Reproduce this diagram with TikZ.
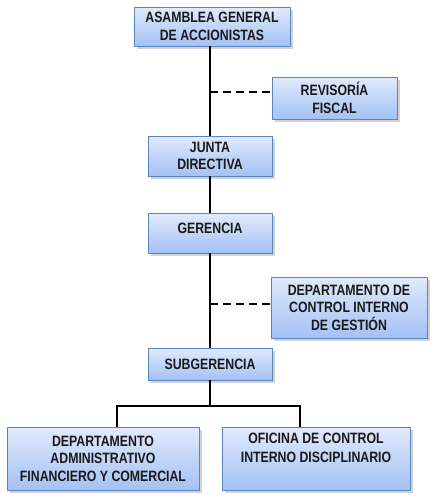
\documentclass[tikz,border=0pt]{standalone}
\usepackage{fontspec}
\setmainfont{Liberation Sans}[FakeStretch=0.82]
\usetikzlibrary{shadows}
\definecolor{boxtop}{HTML}{E0EAFC}
\definecolor{boxbot}{HTML}{A4C1F4}
\definecolor{boxline}{HTML}{5A86C0}
\definecolor{txt}{HTML}{1A1A1A}
\begin{document}
\begin{tikzpicture}[x=1pt,y=-1pt,
  boxtext/.style={align=center, inner sep=0pt, text=txt,
    font=\fontsize{15}{17.5}\selectfont\bfseries},
  orgbox/.style={boxtext, draw=boxline, line width=0.9pt, top color=boxtop, bottom color=boxbot,
    drop shadow={shadow xshift=2.5pt, shadow yshift=-2.5pt, fill=black!35, opacity=0.5}},
  solidline/.style={line width=2.4pt, black},
  dashline/.style={line width=2pt, black, dash pattern=on 8pt off 5pt}]
\useasboundingbox (0,0) rectangle (437,501);
\node[orgbox, minimum width=156pt, minimum height=39pt] (asam) at (212,26.5) {ASAMBLEA GENERAL\\DE ACCIONISTAS};
\node[orgbox, minimum width=125pt, minimum height=42pt] (rev) at (334.5,98) {REVISORÍA\\FISCAL};
\node[orgbox, minimum width=124pt, minimum height=40pt] (junta) at (210,156) {JUNTA\\DIRECTIVA};
\node[orgbox, minimum width=124pt, minimum height=40pt] (ger) at (210,233) {};
\node[boxtext] (gert) at ([yshift=5pt]ger.center) {GERENCIA};
\node[orgbox, minimum width=156pt, minimum height=61pt] (dcig) at (349,307.5) {DEPARTAMENTO DE\\CONTROL INTERNO\\DE GESTIÓN};
\node[orgbox, minimum width=124pt, minimum height=32pt] (sub) at (210,364) {SUBGERENCIA};
\node[orgbox, minimum width=192pt, minimum height=63pt] (dafc) at (103,458.5) {DEPARTAMENTO\\ADMINISTRATIVO\\FINANCIERO Y COMERCIAL};
\node[orgbox, minimum width=188pt, minimum height=63pt] (ocid) at (316,458.5) {};
\node[boxtext, font=\fontsize{15}{19}\selectfont\bfseries] (ocidt) at ([yshift=11pt]ocid.center) {OFICINA DE CONTROL\\INTERNO DISCIPLINARIO};
\coordinate (d1) at (210,92);
\coordinate (d2) at (210,304);
\coordinate (bj) at (210,406);
\coordinate (bl) at (117,406);
\coordinate (br) at (300,406);
\draw[solidline] (junta.north |- asam.south) -- (junta.north);
\draw[solidline] (junta.south) -- (ger.north);
\draw[solidline] (ger.south) -- (sub.north);
\draw[solidline] (sub.south) -- (bj);
\draw[solidline] (bl |- dafc.north) -- (bl) -- (br) -- (br |- ocid.north);
\draw[dashline] (d1) -- (d1 -| rev.west);
\draw[dashline] (d2) -- (d2 -| dcig.west);
\end{tikzpicture}
\end{document}
